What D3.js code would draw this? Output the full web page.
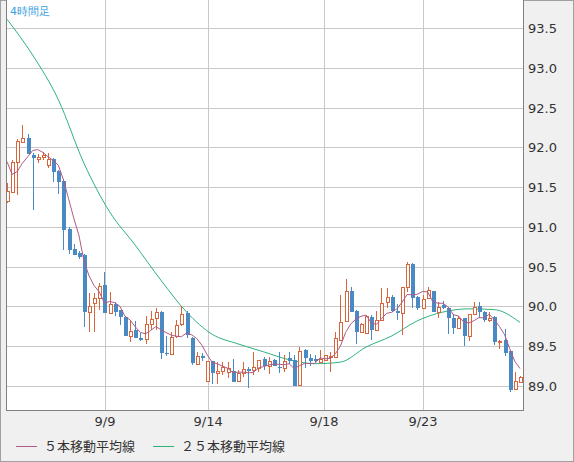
<!DOCTYPE html>
<html><head><meta charset="utf-8">
<script src="https://cdn.jsdelivr.net/npm/d3@7"></script>
<style>
body{margin:0;background:#f0f0f0;}
svg{display:block;font-family:"DejaVu Sans",sans-serif;}
</style></head><body>
<div id="chart"></div>
<script>
// 4h candles: [open, high, low, close]
const candles = [
  [91.32,91.55,91.30,91.45],[91.44,91.84,91.42,91.82],[91.82,92.10,91.40,92.08],[92.07,92.28,92.05,92.12],
  [92.12,92.17,91.92,91.92],[91.90,91.93,91.21,91.86],[91.85,91.92,91.80,91.88],[91.88,91.94,91.84,91.90],
  [91.78,91.93,91.74,91.85],[91.85,91.87,91.56,91.69],[91.70,91.72,91.41,91.56],[91.58,91.60,90.71,90.96],
  [90.97,91.00,90.66,90.71],[90.72,90.78,90.65,90.65],[90.67,90.70,90.60,90.62],[90.65,90.66,89.74,89.93],
  [89.93,90.17,89.68,90.00],[90.04,90.17,89.68,90.10],[90.10,90.30,89.95,90.26],[90.27,90.43,89.92,89.92],
  [89.92,90.18,89.90,90.03],[90.03,90.05,89.88,89.93],[89.95,89.96,89.77,89.87],[89.87,89.88,89.63,89.63],
  [89.63,89.82,89.55,89.69],[89.70,89.82,89.60,89.60],[89.60,89.66,89.56,89.58],[89.59,89.88,89.53,89.78],
  [89.78,89.94,89.70,89.84],[89.85,89.98,89.70,89.93],[89.93,89.94,89.34,89.41],[89.42,89.63,89.38,89.40],
  [89.40,89.68,89.39,89.62],[89.63,89.83,89.60,89.77],[89.78,90.00,89.76,89.90],[89.92,89.94,89.60,89.64],
  [89.60,89.62,89.26,89.29],[89.28,89.43,89.27,89.38],[89.38,89.42,89.32,89.35],[89.06,89.31,89.05,89.31],
  [89.31,89.32,89.03,89.16],[89.16,89.30,89.03,89.19],[89.19,89.30,89.14,89.24],[89.18,89.30,89.10,89.22],
  [89.19,89.34,89.05,89.05],[89.06,89.20,89.05,89.16],[89.16,89.30,89.11,89.21],[89.21,89.24,88.97,89.19],
  [89.20,89.43,89.14,89.24],[89.22,89.33,89.17,89.33],[89.34,89.37,89.20,89.25],[89.25,89.37,89.15,89.31],
  [89.33,89.34,89.25,89.25],[89.24,89.43,89.16,89.22],[89.22,89.39,89.17,89.31],[89.35,89.43,89.28,89.31],
  [89.33,89.39,89.00,89.00],[89.01,89.49,89.00,89.44],[89.45,89.46,89.23,89.35],[89.35,89.40,89.25,89.32],
  [89.34,89.39,89.30,89.31],[89.30,89.45,89.29,89.34],[89.33,89.39,89.32,89.39],[89.36,89.43,89.18,89.38],
  [89.36,89.68,89.35,89.60],[89.58,90.15,89.57,89.80],[89.82,90.35,89.81,90.19],[90.19,90.24,89.93,89.93],
  [89.94,89.95,89.53,89.68],[89.68,89.79,89.67,89.78],[89.67,89.89,89.66,89.88],[89.87,89.89,89.58,89.70],
  [89.70,89.94,89.69,89.83],[89.83,90.23,89.82,90.04],[90.05,90.23,89.98,90.12],[90.12,90.15,89.93,89.94],
  [89.94,90.03,89.83,89.92],[89.92,90.24,89.64,90.24],[90.25,90.56,90.18,90.53],[90.53,90.54,89.98,90.10],
  [90.12,90.13,89.96,89.98],[89.98,90.14,89.97,90.09],[90.10,90.25,90.09,90.21],[90.19,90.20,89.93,89.93],
  [89.93,90.06,89.85,89.99],[90.02,90.07,89.97,89.98],[89.98,89.99,89.65,89.85],[89.85,89.90,89.65,89.73],
  [89.73,89.88,89.72,89.85],[89.85,89.86,89.50,89.63],[89.63,89.90,89.57,89.90],[89.90,90.06,89.89,89.99],
  [90.00,90.05,89.85,89.93],[89.93,89.94,89.80,89.83],[89.83,89.93,89.80,89.86],[89.87,89.88,89.51,89.55],
  [89.56,89.58,89.47,89.57],[89.58,89.72,89.38,89.41],[89.44,89.45,88.93,88.95],[88.96,89.18,88.95,89.06],
  [89.05,89.12,89.04,89.11]
];
const priorCloses = [92.62, 91.90, 91.60, 91.53];
// 25-bar moving average read at every 5th bar
const ma25Index = [0,5,10,15,20,25,30,35,40,45,50,55,60,65,70,75,80,85,90,95,100];
const ma25Value = [93.61,93.16,92.60,91.80,91.19,90.77,90.33,89.93,89.65,89.53,89.43,89.33,89.28,89.30,89.49,89.63,89.82,89.93,89.97,89.96,89.80];
const yTicks = [89.0,89.5,90.0,90.5,91.0,91.5,92.0,92.5,93.0,93.5];
const xTickLabels = ["9/9","9/14","9/18","9/23"];
const xTickIndex = [19.1,39.2,61.8,81.1];

const W = 574, H = 462;
const L = 6, R = 524, T = 0, B = 411;
const svg = d3.select('#chart').append('svg').attr('width', W).attr('height', H);
svg.append('rect').attr('x',0.5).attr('y',0.5).attr('width',W-1).attr('height',H-1)
  .attr('fill','#f0f0f0').attr('stroke','#a0a0a0');
svg.append('rect').attr('x',L).attr('y',T).attr('width',R-L).attr('height',B-T).attr('fill','#fff');

const x = d3.scaleLinear().domain([0,100]).range([7,520]);
const y = d3.scaleLinear().domain([89,93.5]).range([386,28]);

const grid = svg.append('g').attr('shape-rendering','crispEdges').attr('stroke','#c8c8c8');
grid.selectAll('.h').data(yTicks).join('line')
  .attr('x1',L).attr('x2',R).attr('y1',d=>Math.round(y(d))+0.5).attr('y2',d=>Math.round(y(d))+0.5);
grid.selectAll('.v').data(xTickIndex).join('line')
  .attr('y1',T).attr('y2',B).attr('x1',d=>Math.round(x(d))+0.5).attr('x2',d=>Math.round(x(d))+0.5);

// moving averages
const closes = priorCloses.concat(candles.map(c=>c[3]));
const ma5 = candles.map((c,i)=>d3.mean(closes.slice(i, i+5)));
svg.append('path').datum(ma25Value).attr('fill','none').attr('stroke','#2db37a').attr('stroke-width',1)
  .attr('d', d3.line().x((d,i)=>x(ma25Index[i])).y(d=>y(d)).curve(d3.curveMonotoneX));

const cg = svg.append('g').attr('shape-rendering','crispEdges');
candles.forEach((c,i)=>{
  const [o,h,l,cl] = c;
  const up = cl >= o;
  const col = up ? '#d9653b' : '#4a8ac4';
  const cx = Math.round(x(i)) + 0.5;
  cg.append('line').attr('x1',cx).attr('x2',cx).attr('y1',y(h)).attr('y2',y(l)).attr('stroke',col);
  const top = Math.round(y(Math.max(o,cl))), bot = Math.round(y(Math.min(o,cl)));
  if (up) {
    cg.append('rect').attr('x',cx-1.5).attr('y',top+0.5).attr('width',3).attr('height',Math.max(1,bot-top))
      .attr('fill','#fff').attr('stroke',col);
  } else {
    cg.append('rect').attr('x',cx-2).attr('y',top).attr('width',4).attr('height',Math.max(1,bot-top))
      .attr('fill',col);
  }
});
svg.append('path').datum(ma5).attr('fill','none').attr('stroke','#b05a86').attr('stroke-width',1)
  .attr('d', d3.line().x((d,i)=>x(i)).y(d=>y(d)));

// frame
svg.append('path').attr('d',`M${L+0.5},${T}V${B-0.5}H${R-0.5}V${T}`).attr('fill','none')
  .attr('stroke','#808080').attr('shape-rendering','crispEdges');

svg.append('text').attr('x',10).attr('y',15).attr('font-size',11).attr('fill','#3aa0e0').text('4時間足');

svg.selectAll('.yl').data(yTicks).join('text').attr('x',528).attr('y',d=>y(d)+5)
  .attr('font-size',13).attr('fill','#333').text(d3.format('.1f'));
svg.selectAll('.xl').data(xTickLabels).join('text').attr('x',(d,i)=>x(xTickIndex[i])).attr('y',426)
  .attr('text-anchor','middle').attr('font-size',13).attr('fill','#333').text(d=>d);

const legend = [['５本移動平均線','#b05a86',16],['２５本移動平均線','#2db37a',153]];
legend.forEach(([t,c,lx])=>{
  svg.append('line').attr('x1',lx).attr('x2',lx+21).attr('y1',446.5).attr('y2',446.5).attr('stroke',c);
  svg.append('text').attr('x',lx+28).attr('y',451).attr('font-size',13).attr('fill','#333')
    .attr('font-family','"Noto Sans CJK JP",sans-serif').text(t);
});
</script>
</body></html>
